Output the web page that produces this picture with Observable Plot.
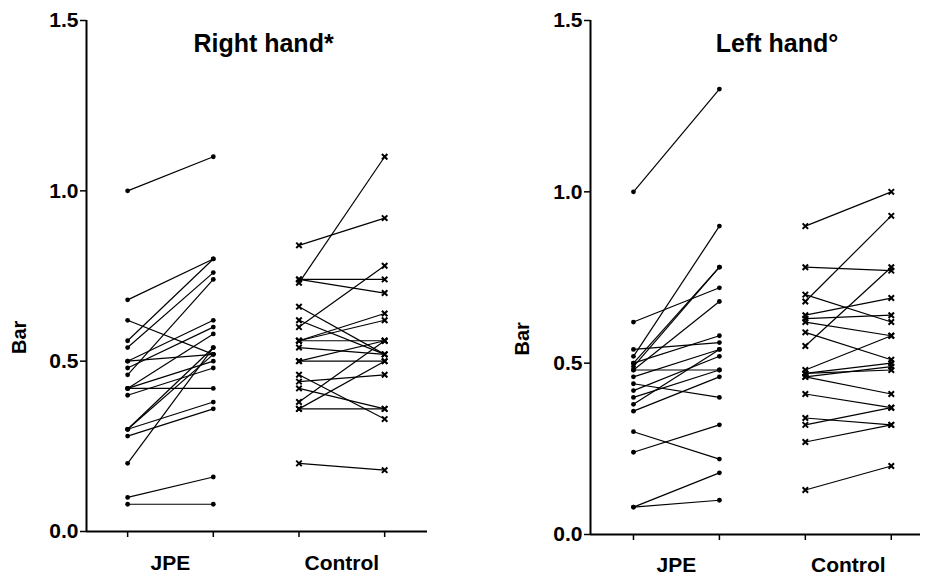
<!DOCTYPE html>
<html>
<head>
<meta charset="utf-8">
<script src="https://cdn.jsdelivr.net/npm/d3@7"></script>
<script src="https://cdn.jsdelivr.net/npm/@observablehq/plot@0.6"></script>
<style>
  body { margin: 0; background: #fff; }
  #wrap { position: relative; width: 926px; height: 580px; }
  .panel { position: absolute; top: 0; }
</style>
</head>
<body>
<div id="wrap"></div>
<script>
// ---- data ----
const groups = ["JPE", "Control"];
const yTicks = [0, 0.5, 1.0, 1.5];
const panelTitles = ["Right hand*", "Left hand\u00B0"];
const yLabel = "Bar";

// Right hand
const rhJpePre  = [1.00, 0.68, 0.62, 0.56, 0.54, 0.50, 0.50, 0.48, 0.46, 0.42, 0.42, 0.42, 0.40, 0.30, 0.30, 0.30, 0.28, 0.20, 0.10, 0.08];
const rhJpePost = [1.10, 0.80, 0.52, 0.80, 0.76, 0.62, 0.52, 0.60, 0.74, 0.58, 0.42, 0.50, 0.48, 0.52, 0.54, 0.38, 0.36, 0.54, 0.16, 0.08];
const rhCtlPre  = [0.84, 0.73, 0.74, 0.74, 0.66, 0.62, 0.60, 0.56, 0.56, 0.56, 0.54, 0.50, 0.50, 0.46, 0.44, 0.42, 0.38, 0.36, 0.36, 0.20];
const rhCtlPost = [0.92, 1.10, 0.74, 0.70, 0.52, 0.52, 0.78, 0.64, 0.62, 0.56, 0.52, 0.56, 0.50, 0.33, 0.46, 0.36, 0.56, 0.50, 0.36, 0.18];

// Left hand
const lhJpePre  = [1.00, 0.62, 0.54, 0.52, 0.50, 0.49, 0.48, 0.50, 0.48, 0.46, 0.44, 0.42, 0.40, 0.38, 0.36, 0.30, 0.24, 0.08, 0.08];
const lhJpePost = [1.30, 0.72, 0.56, 0.90, 0.78, 0.78, 0.68, 0.58, 0.48, 0.54, 0.40, 0.52, 0.48, 0.54, 0.46, 0.22, 0.32, 0.18, 0.10];
const lhCtlPre  = [0.90, 0.78, 0.70, 0.68, 0.64, 0.63, 0.62, 0.59, 0.55, 0.48, 0.47, 0.46, 0.47, 0.46, 0.41, 0.34, 0.32, 0.27, 0.13];
const lhCtlPost = [1.00, 0.77, 0.62, 0.93, 0.69, 0.64, 0.58, 0.51, 0.78, 0.58, 0.50, 0.49, 0.48, 0.41, 0.37, 0.32, 0.37, 0.32, 0.20];

const FONT = "'Liberation Sans', Arial, Helvetica, sans-serif";

function makePanel(cfg) {
  const links = [];
  const points = [];
  [[cfg.jpePre, cfg.jpePost], [cfg.ctlPre, cfg.ctlPost]].forEach(([pre, post], gi) => {
    pre.forEach((v, i) => {
      links.push({group: groups[gi], x1: gi * 2, x2: gi * 2 + 1, y1: v, y2: post[i]});
      points.push({group: groups[gi], x: gi * 2, y: v});
      points.push({group: groups[gi], x: gi * 2 + 1, y: post[i]});
    });
  });
  return Plot.plot({
    width: 463,
    height: 580,
    marginLeft: cfg.ml,
    marginRight: cfg.mr,
    marginTop: 20,
    marginBottom: cfg.mb,
    x: {domain: cfg.xDomain},
    y: {domain: [0, 1.5]},
    style: {fontFamily: FONT, background: "white", color: "black", overflow: "visible"},
    marks: [
      Plot.axisY({ticks: yTicks, tickFormat: d3.format(".1f"), tickSize: 6, tickPadding: 2,
                  fontSize: 21, fontWeight: "bold", label: null, strokeWidth: 1.5}),
      Plot.axisX({ticks: [0, 1, 2, 3], tickSize: 6, fill: "none", label: null, strokeWidth: 1.5}),
      Plot.axisX({ticks: [0.5, 2.5], tickSize: 0, tickPadding: cfg.labPad,
                  tickFormat: (d) => groups[Math.floor(d / 2)],
                  fontSize: 21, fontWeight: "bold", label: null}),
      Plot.ruleX([cfg.xDomain[0]], {strokeWidth: 2}),
      Plot.ruleY([0], {strokeWidth: 2}),
      Plot.link(links, {x1: "x1", y1: "y1", x2: "x2", y2: "y2", stroke: "black", strokeWidth: 1.2}),
      Plot.dot(points.filter(d => d.group === "JPE"), {x: "x", y: "y", r: 2.4, fill: "black", stroke: "none"}),
      Plot.dot(points.filter(d => d.group === "Control"), {x: "x", y: "y", r: 2.6, symbol: "times", stroke: "black", strokeWidth: 2}),
      Plot.text([cfg.title], {frameAnchor: "top", lineAnchor: "top", dx: cfg.titleDx, dy: 14,
                 fontSize: 25, fontWeight: "bold", fill: "black"}),
      Plot.text([yLabel], {frameAnchor: "left", rotate: -90, dx: cfg.labDx, dy: cfg.labDy,
                 fontSize: 20, fontWeight: "bold", fill: "black"})
    ]
  });
}

const wrap = document.getElementById("wrap");
const p1 = makePanel({
  title: panelTitles[0], jpePre: rhJpePre, jpePost: rhJpePost, ctlPre: rhCtlPre, ctlPost: rhCtlPost,
  ml: 86, mr: 36, mb: 49, xDomain: [-0.48, 3.5], titleDx: 6.5, labPad: 24, labDx: -67, labDy: 78
});
const p2 = makePanel({
  title: panelTitles[1], jpePre: lhJpePre, jpePost: lhJpePost, ctlPre: lhCtlPre, ctlPost: lhCtlPost,
  ml: 127, mr: 6, mb: 46, xDomain: [-0.5, 3.34], titleDx: 21.5, labPad: 23, labDx: -68, labDy: 78
});
p1.classList.add("panel"); p1.style.left = "0px";
p2.classList.add("panel"); p2.style.left = "463px";
wrap.appendChild(p1);
wrap.appendChild(p2);
</script>
</body>
</html>
